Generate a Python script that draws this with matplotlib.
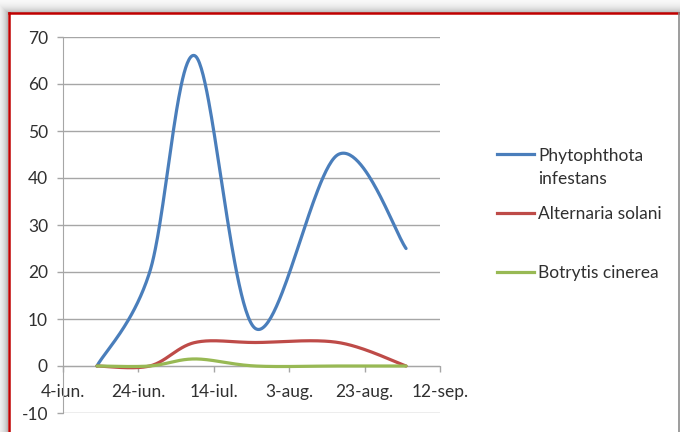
import numpy as np
import pandas as pd
import matplotlib.pyplot as plt
import matplotlib.dates as mdates
from matplotlib.lines import Line2D

# observation dates and disease counts
dates = ['2012-06-13', '2012-06-27', '2012-07-09', '2012-07-25', '2012-08-16', '2012-09-03']
phytophthora = [0, 20, 66, 8, 45, 25]
alternaria = [0, 0, 5, 5, 5, 0]
botrytis = [0, 0, 1.5, 0, 0, 0]

series_names = ['Phytophthota\ninfestans', 'Alternaria solani', 'Botrytis cinerea']
series_colors = ['#4a7ebb', '#be4b48', '#98b954']

tick_dates = ['2012-06-04', '2012-06-24', '2012-07-14', '2012-08-03', '2012-08-23', '2012-09-12']
tick_labels = ['4-iun.', '24-iun.', '14-iul.', '3-aug.', '23-aug.', '12-sep.']

plt.rcParams['font.family'] = ['Lato', 'DejaVu Sans']
plt.rcParams['axes.unicode_minus'] = False
txt_color = '#303030'
grid_color = '#a6a6a6'
fsize = 12.5


def smooth(x, y, n=60):
    # Catmull-Rom style bezier through every point (like a "smoothed line")
    p = np.column_stack([x, y]).astype(float)
    p = np.vstack([p[0], p, p[-1]])
    t = np.linspace(0, 1, n)[:, None]
    segs = []
    for i in range(1, len(p) - 2):
        p0, p1, p2, p3 = p[i - 1], p[i], p[i + 1], p[i + 2]
        c1 = p1 + (p2 - p0) / 6
        c2 = p2 - (p3 - p1) / 6
        segs.append((1 - t)**3 * p1 + 3 * (1 - t)**2 * t * c1
                    + 3 * (1 - t) * t**2 * c2 + t**3 * p2)
    pts = np.vstack(segs)
    return pts[:, 0], pts[:, 1]


W, H = 680, 432
fig = plt.figure(figsize=(W / 100, H / 100), dpi=100)

# soft shadow around the chart frame
yy, xx = np.mgrid[0:H, 0:W]
dx = np.clip(8 - xx, 0, None)
dy = np.clip(13 - yy, 0, None)
d = np.maximum(dx, dy).astype(float)
shade = np.where(d > 0, 1 - 0.28 * np.exp(-(d - 1) / 5.0), 1.0)
img = np.dstack([shade, shade, shade])
fig.figimage(img, 0, 0, origin='upper', zorder=-5)

# frame border
fig.add_artist(Line2D([8.5 / W, 8.5 / W], [0, 1 - 13 / H], color='#c00000', lw=1.8))
fig.add_artist(Line2D([8.5 / W, 679 / W], [1 - 13 / H, 1 - 13 / H], color='#c00000', lw=1.8))
fig.add_artist(Line2D([679 / W, 679 / W], [0, 1 - 13 / H], color='#8c8c8c', lw=1.2))

ax = fig.add_axes([63 / W, 19 / H, 377 / W, 376 / H])
ax.patch.set_alpha(0)

x = mdates.date2num(pd.to_datetime(dates))
for vals, name, color in zip([phytophthora, alternaria, botrytis], series_names, series_colors):
    sx, sy = smooth(x, vals)
    ax.plot(sx, sy, color=color, lw=2.3, solid_capstyle='round', label=name, zorder=3)

xt = mdates.date2num(pd.to_datetime(tick_dates))
ax.set_xlim(xt[0], xt[-1])
ax.set_ylim(-10, 70)
ax.set_xticks(xt)
ax.set_xticklabels(tick_labels)
ax.set_yticks(np.arange(-10, 71, 10))

ax.grid(axis='y', color=grid_color, lw=1.0)
ax.set_axisbelow(True)
for s in ['top', 'right']:
    ax.spines[s].set_visible(False)
ax.spines['left'].set_color(grid_color)
ax.spines['bottom'].set_color(grid_color)
ax.spines['bottom'].set_position(('data', 0))
ax.tick_params(axis='both', colors=grid_color, labelcolor=txt_color, labelsize=fsize,
               direction='out', length=4.3, width=1.0)
ax.tick_params(axis='x', pad=9)
ax.tick_params(axis='y', pad=6.5)

# legend drawn by hand so the line sits on the first text row
leg_y = [154, 213, 272]
for name, color, yp in zip(series_names, series_colors, leg_y):
    yf = 1 - yp / H
    nl = name.count('\n')
    fig.add_artist(Line2D([497 / W, 534 / W], [yf, yf], color=color, lw=2.3))
    fig.text(538 / W, 1 - (yp + 6 + 24 * nl) / H, name, fontsize=fsize, color=txt_color,
             va='baseline', ha='left', linespacing=1.52)

fig.savefig('out.png', dpi=100)
